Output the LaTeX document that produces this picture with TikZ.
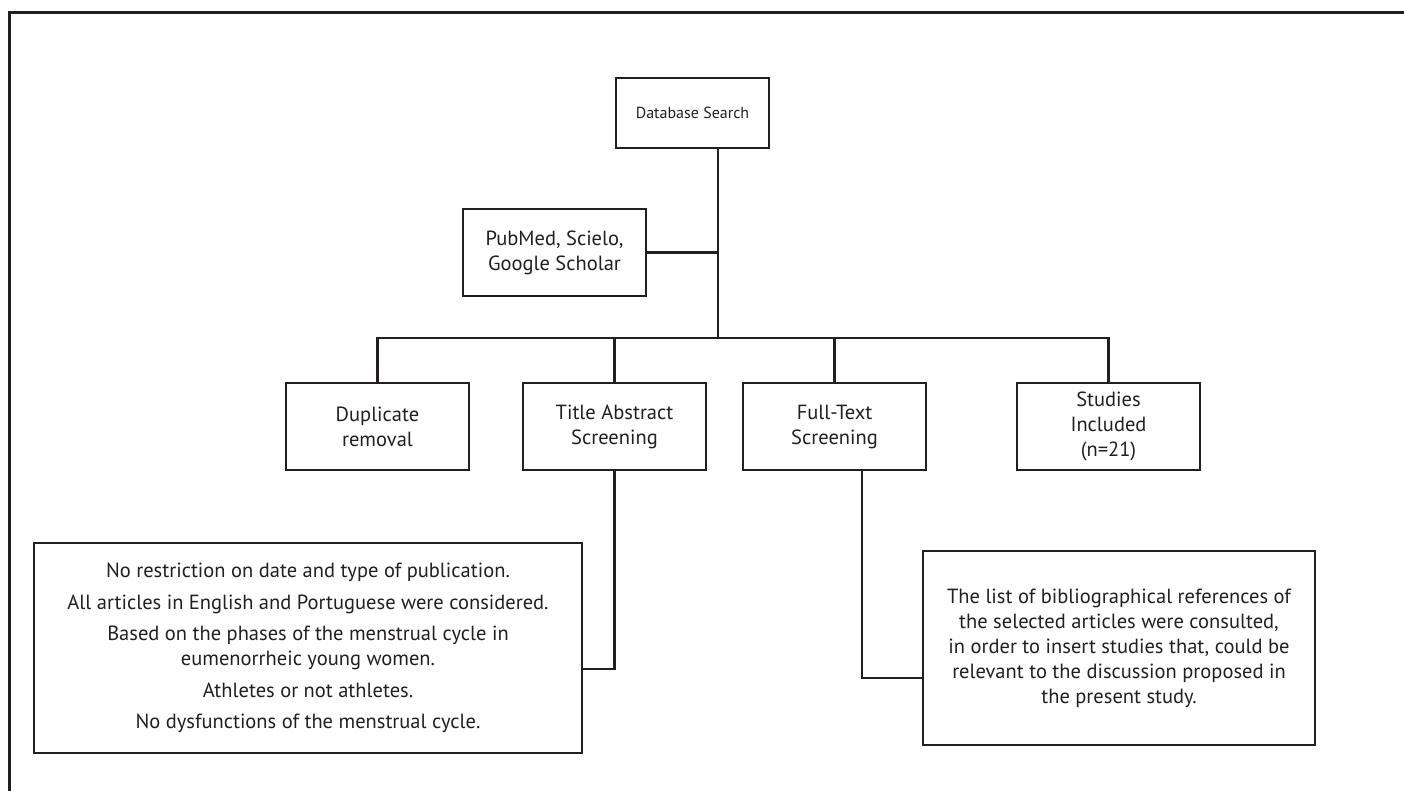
\documentclass[tikz,border=0pt]{standalone}
\usepackage{fontspec}
\setmainfont{PT Sans}
\usepackage{tikz}
\usetikzlibrary{positioning}
\definecolor{ink}{HTML}{231F20}

\begin{document}
\begin{tikzpicture}
      [x=1pt, y=-1pt,
      stage/.style={rectangle, draw=ink, line width=1.4pt, text=ink, align=center,
        minimum width=183pt, minimum height=87pt, inner sep=0pt,
        font=\fontsize{20.5}{25}\selectfont},
      link/.style={draw=ink, line width=2.8pt},
      frame/.style={draw=ink, line width=3pt}]
      \useasboundingbox (0,0) rectangle (1404,791);
      \draw[frame] (1404,12.5) -- (9,12.5) -- (9,791);
      % top of the flow
      \node (search) at (692.5,113) [stage, minimum width=153pt, minimum height=70pt,
        font=\fontsize{16}{20}\selectfont] {Database Search};
      \node (sources) at (554.5,252.5) [stage] {PubMed, Scielo,\\Google Scholar};
      \coordinate (trunk) at (718,338);
      \draw[link] (search.south -| trunk) -- (trunk);
      \draw[link] (sources.east) -- (sources.east -| trunk);
      % the four stages
      \node (dup) at (377.5,426.5) [stage] {Duplicate\\removal};
      \node (title) at (614.5,426.5) [stage] {Title Abstract\\Screening};
      \node (full) at (834.5,426.5) [stage] {Full-Text\\Screening};
      \node (incl) at (1108.5,426.5) [stage] {Studies\\Included\\(n=21)};
      \draw[link] (dup.north) -- (dup.north |- trunk) -- (incl.north |- trunk) -- (incl.north);
      \draw[link] (title.north) -- (title.north |- trunk);
      \draw[link] (full.north) -- (full.north |- trunk);
      % criteria notes
      \node (crit) at (308,648) [stage, minimum width=548pt, minimum height=210pt]
        {No restriction on date and type of publication.\\[6.5pt]
         All articles in English and Portuguese were considered.\\[6.5pt]
         Based on the phases of the menstrual cycle in\\eumenorrheic young women.\\[6.5pt]
         Athletes or not athletes.\\[6.5pt]
         No dysfunctions of the menstrual cycle.};
      \node (refs) at (1119,648) [stage, minimum width=392pt, minimum height=194pt]
        {The list of bibliographical references of\\the selected articles were consulted,\\
         in order to insert studies that, could be\\relevant to the discussion proposed in\\the present study.};
      \draw[link] (title.south) -- (title.south |- 0,669) -- ([yshift=-21pt]crit.east);
      \draw[link] ([xshift=27.5pt]full.south) |- ([yshift=-30pt]refs.west);
\end{tikzpicture}
\end{document}
